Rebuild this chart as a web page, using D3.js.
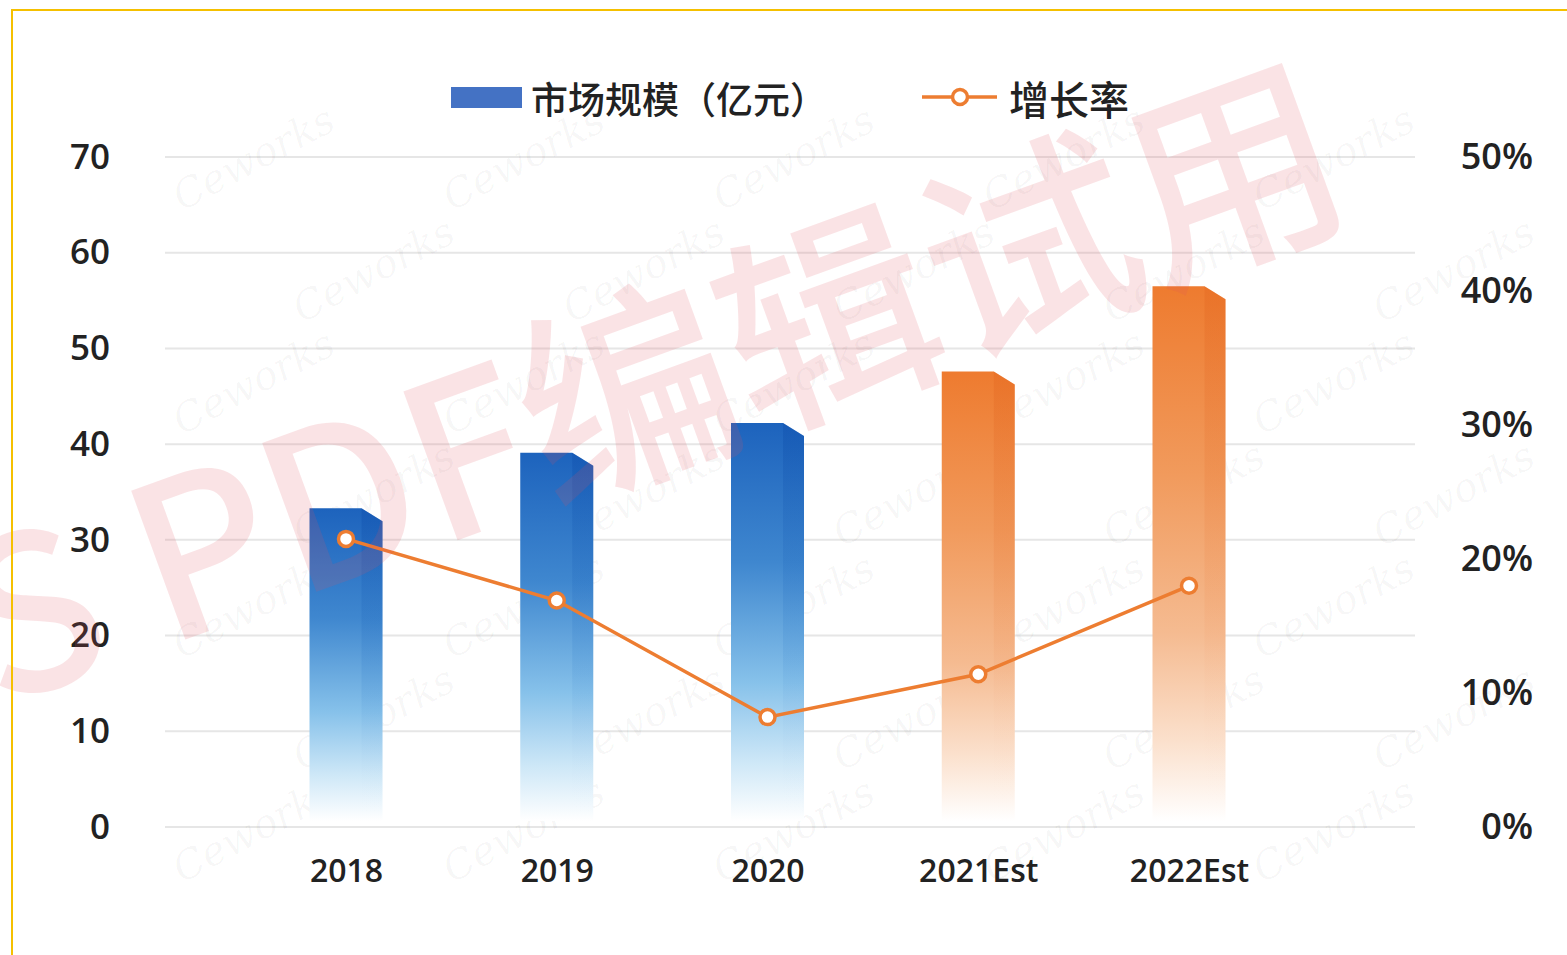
<!DOCTYPE html>
<html>
<head>
<meta charset="utf-8">
<script src="https://cdn.jsdelivr.net/npm/d3@7"></script>
<style>
  body { margin: 0; background: #fff; }
  svg { display: block; }
  text { font-family: "Noto Sans CJK SC", "Noto Sans", sans-serif; }
</style>
</head>
<body>
<div class="chart"></div>
<script>
// data
var categories = ["2018", "2019", "2020", "2021Est", "2022Est"];
var marketSize = [33.3, 39.1, 42.2, 47.6, 56.5];   // 亿元
var growthRate = [21.5, 16.9, 8.2, 11.4, 18.0];    // %
var isEstimate = [false, false, false, true, true];
var leftTicks = [0, 10, 20, 30, 40, 50, 60, 70];
var rightTicks = [0, 10, 20, 30, 40, 50];
var legendLabels = ["市场规模（亿元）", "增长率"];

var width = 1567, height = 955;
var orange = "#ed7d31";

var svg = d3.select(".chart").append("svg")
  .attr("width", width).attr("height", height);

svg.append("rect").attr("width", width).attr("height", height).attr("fill", "#fff");

var defs = svg.append("defs");
function grad(id, stops) {
  var g = defs.append("linearGradient").attr("id", id)
    .attr("x1", 0).attr("y1", 0).attr("x2", 0).attr("y2", 1);
  stops.forEach(function(s) {
    g.append("stop").attr("offset", s[0]).attr("stop-color", s[1]).attr("stop-opacity", s[2] == null ? 1 : s[2]);
  });
}
grad("blueBar", [[0, "#1d63bd"], [0.35, "#3f87cf"], [0.65, "#86c1ea"], [0.85, "#cde7f7"], [1, "#ffffff"]]);
grad("orangeBar", [[0, "#ee7b2f"], [0.35, "#f19a5c"], [0.65, "#f5bb91"], [0.85, "#fbe0cc"], [1, "#ffffff"]]);
grad("blueFace", [[0, "#0b4aa8", 0.35], [0.6, "#2a78c8", 0.12], [1, "#ffffff", 0]]);
grad("orangeFace", [[0, "#e0601a", 0.3], [0.6, "#e87a3a", 0.1], [1, "#ffffff", 0]]);

// scales
var x = d3.scalePoint().domain(categories).range([346, 1189]);
var y = d3.scaleLinear().domain([0, 70]).range([827, 157]);
var y2 = d3.scaleLinear().domain([0, 50]).range([827, 157]);
var bw = 73;

// gridlines
svg.append("g").selectAll("line").data(leftTicks).enter().append("line")
  .attr("x1", 165).attr("x2", 1415)
  .attr("y1", function(d) { return y(d); }).attr("y2", function(d) { return y(d); })
  .attr("stroke", "#e6e6e6").attr("stroke-width", 2);

// faint Ceworks marks under the bars
var wm = svg.append("g").attr("pointer-events", "none");
d3.range(0, 7).forEach(function(r) {
  d3.range(0, 5).forEach(function(c) {
    var px = 260 + c * 270 + (r % 2) * 120, py = 170 + r * 112;
    wm.append("text").attr("transform", "translate(" + px + "," + py + ") rotate(-28)")
      .attr("text-anchor", "middle")
      .style("font-size", "40px").style("font-style", "italic").style("font-family", "'DejaVu Serif', serif")
      .attr("fill", "#000").attr("fill-opacity", 0.035).text("Ceworks");
  });
});

// axes
var left = svg.append("g").attr("transform", "translate(110,0)")
  .call(d3.axisLeft(y).tickValues(leftTicks).tickSize(0).tickPadding(0));
var right = svg.append("g").attr("transform", "translate(1533,0)")
  .call(d3.axisRight(y2).tickValues(rightTicks).tickSize(0).tickPadding(0)
    .tickFormat(function(d) { return d + "%"; }));
right.selectAll("text").attr("text-anchor", "end");
var bottom = svg.append("g").attr("transform", "translate(0,827)")
  .call(d3.axisBottom(x).tickSize(0).tickPadding(32));
[left, right, bottom].forEach(function(a) {
  a.select(".domain").remove();
  a.selectAll("text").attr("fill", "#222")
    .style("font-family", "'Open Sans', 'Noto Sans', sans-serif").style("font-weight", "600");
});
left.selectAll("text").style("font-size", "35px");
right.selectAll("text").style("font-size", "36px");
bottom.selectAll("text").style("font-size", "32px");

// bars
var bars = svg.append("g").selectAll("g")
  .data(categories.map(function(c, i) { return {cat: c, value: marketSize[i], est: isEstimate[i]}; }))
  .enter().append("g");

bars.append("path")
  .attr("d", function(d) {
    var x0 = x(d.cat) - bw / 2, x1 = x(d.cat) + bw / 2, t = y(d.value), b = y(0) - 6;
    return "M" + x0 + "," + b + "V" + t + "H" + (x1 - 21) + "L" + x1 + "," + (t + 13) + "V" + b + "Z";
  })
  .attr("fill", function(d) { return d.est ? "url(#orangeBar)" : "url(#blueBar)"; });

bars.append("path")
  .attr("d", function(d) {
    var x1 = x(d.cat) + bw / 2, t = y(d.value), b = y(0) - 6;
    return "M" + (x1 - 21) + "," + t + "L" + x1 + "," + (t + 13) + "V" + b + "H" + (x1 - 21) + "Z";
  })
  .attr("fill", function(d) { return d.est ? "url(#orangeFace)" : "url(#blueFace)"; });

// growth line
var pts = categories.map(function(c, i) { return [x(c), y2(growthRate[i])]; });
svg.append("path")
  .attr("d", d3.line()(pts))
  .attr("fill", "none").attr("stroke", orange).attr("stroke-width", 3.5);
svg.append("g").selectAll("circle").data(pts).enter().append("circle")
  .attr("cx", function(d) { return d[0]; }).attr("cy", function(d) { return d[1]; })
  .attr("r", 7.5).attr("fill", "#fff").attr("stroke", orange).attr("stroke-width", 3.5);

// legend
var lg = svg.append("g");
lg.append("rect").attr("x", 451).attr("y", 87).attr("width", 71).attr("height", 21).attr("fill", "#4472c4");
lg.append("text").attr("x", 531).attr("y", 98).attr("dominant-baseline", "central")
  .style("font-size", "37px").style("font-weight", "500").attr("fill", "#222").text(legendLabels[0]);
lg.append("line").attr("x1", 922).attr("x2", 997).attr("y1", 97).attr("y2", 97)
  .attr("stroke", orange).attr("stroke-width", 3.5);
lg.append("circle").attr("cx", 960).attr("cy", 97).attr("r", 7.5)
  .attr("fill", "#fff").attr("stroke", orange).attr("stroke-width", 3.5);
lg.append("text").attr("x", 1009).attr("y", 98).attr("dominant-baseline", "central")
  .style("font-size", "40px").style("font-weight", "500").attr("fill", "#222").text(legendLabels[1]);

// trial watermark across the page
svg.append("text")
  .attr("pointer-events", "none")
  .attr("transform", "translate(647,372) rotate(-20)")
  .attr("text-anchor", "middle").attr("dominant-baseline", "central")
  .style("font-size", "215px").style("font-weight", "500")
  .attr("fill", "#e0505f").attr("fill-opacity", 0.16)
  .text("S PDF编辑试用");

// frame
svg.append("rect").attr("x", 12).attr("y", 10).attr("width", width).attr("height", height)
  .attr("fill", "none").attr("stroke", "#f5c000").attr("stroke-width", 2);
</script>
</body>
</html>
